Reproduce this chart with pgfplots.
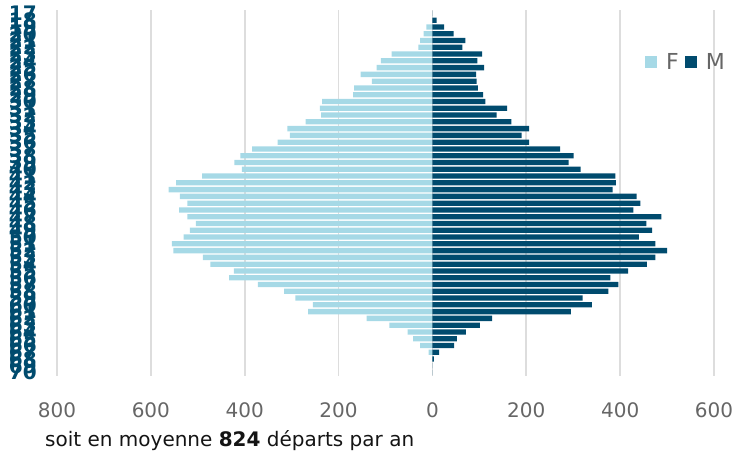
\documentclass[border=0pt]{standalone}
\usepackage{fontspec}
\setmainfont{DejaVu Sans}
\usepackage{pgfplots}
\pgfplotsset{compat=1.18}
\usepackage{pgfplotstable}
\definecolor{fcol}{RGB}{166,217,230}
\definecolor{mcol}{RGB}{0,75,110}
\definecolor{tickgrey}{RGB}{102,102,102}
\definecolor{gridgrey}{RGB}{221,221,221}
\definecolor{captxt}{RGB}{20,20,20}

\pgfplotstableread{
row age F M
0 17 0 0
1 18 0 9
2 19 -13 25
3 20 -19 45
4 21 -26 70
5 22 -30 64
6 23 -87 106
7 24 -110 96
8 25 -119 110
9 26 -153 93
10 27 -129 94
11 28 -167 97
12 29 -169 108
13 30 -235 113
14 31 -240 159
15 32 -237 137
16 33 -270 168
17 34 -309 206
18 35 -304 190
19 36 -330 206
20 37 -384 272
21 38 -409 301
22 39 -422 290
23 40 -406 316
24 41 -491 390
25 42 -546 391
26 43 -562 384
27 44 -538 435
28 45 -522 443
29 46 -540 428
30 47 -522 488
31 48 -504 456
32 49 -517 468
33 50 -530 440
34 51 -555 475
35 52 -552 500
36 53 -489 475
37 54 -473 457
38 55 -423 417
39 56 -433 379
40 57 -372 396
41 58 -316 375
42 59 -292 320
43 60 -255 340
44 61 -265 295
45 62 -140 127
46 63 -92 101
47 64 -53 71
48 65 -41 52
49 66 -26 46
50 67 -8 14
51 68 0 3
52 69 0 0
53 70 0 0
}\data

\begin{document}
\begin{tikzpicture}
\path[use as bounding box] (-57pt,-77pt) rectangle (678pt,376pt);
\begin{axis}[
  at={(0,0)}, anchor=south west,
  scale only axis, width=657pt, height=366pt,
  xmin=-800, xmax=600, ymin=-0.5, ymax=53.5, y dir=reverse,
  axis line style={draw=none}, major tick length=0pt,
  xmajorgrids, grid style={gridgrey, line width=1.6pt},
  xtick={-800,-600,...,600},
  xticklabel={\pgfmathparse{abs(\tick)}\pgfmathprintnumber[fixed,precision=0]{\pgfmathresult}},
  /pgf/number format/assume math mode=true,
  xticklabel style={font=\fontsize{20}{24}\selectfont, text=tickgrey, inner sep=0pt, yshift=-26pt},
  ytick={0,...,53},
  yticklabel={\pgfmathparse{int(\tick+17)}\pgfmathresult},
  yticklabel style={font=\bfseries\fontsize{20}{24}\selectfont, text=mcol, inner sep=0pt, xshift=-20pt, anchor=east},
  legend columns=2,
  legend style={draw=none, fill=none, at={(0.895,0.858)}, anchor=west,
    inner sep=0pt,
    nodes={font=\fontsize{22}{26}\selectfont, text=tickgrey, inner sep=0pt},
    /tikz/every odd column/.append style={column sep=9pt},
    /tikz/every even column/.append style={column sep=6pt}},
]
\addplot[xbar, bar width=5.3pt, bar shift=0pt, fill=fcol, draw=none,
  legend image code/.code={\fill[fcol] (0pt,-6pt) rectangle (12pt,6pt);}]
  table[x=F, y=row]{\data};
\addplot[xbar, bar width=5.3pt, bar shift=0pt, fill=mcol, draw=none,
  legend image code/.code={\fill[mcol] (0pt,-6pt) rectangle (12pt,6pt);}]
  table[x=M, y=row]{\data};
\legend{F,M}
\end{axis}
\node[anchor=base west, font=\fontsize{20}{24}\selectfont, text=captxt, inner sep=0pt] at (-12pt,-70pt) {soit en moyenne \textbf{824} départs par an};
\end{tikzpicture}
\end{document}
